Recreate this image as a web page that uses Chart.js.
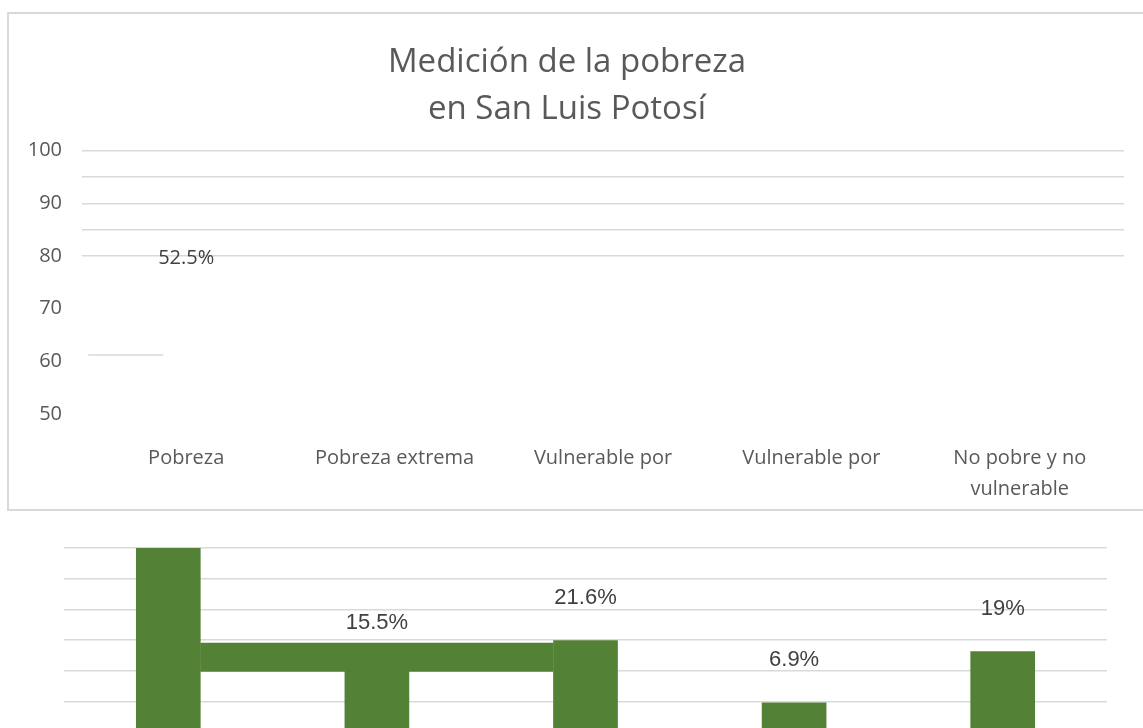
<!DOCTYPE html>
<html>
<head>
<meta charset="utf-8">
<script src="https://cdn.jsdelivr.net/npm/chart.js@4/dist/chart.umd.min.js"></script>
<style>
  html, body { margin: 0; padding: 0; width: 1143px; height: 728px; overflow: hidden; background: #fff; }
  #box { position: absolute; left: 7px; top: 12px; width: 1200px; height: 499px; border: 2px solid #d9d9d9; box-sizing: border-box; }
  #topWrap { position: absolute; left: 0; top: 0; width: 1143px; height: 515px; }
  #barWrap { position: absolute; left: 0; top: 520px; width: 1143px; height: 215px; }
</style>
</head>
<body>
<div id="box"></div>
<div id="topWrap"><canvas id="topChart"></canvas></div>
<div id="barWrap"><canvas id="barChart"></canvas></div>
<script>
// Chart data
const titleLines = ['Medición de la pobreza', 'en San Luis Potosí'];
const categories = ['Pobreza', 'Pobreza extrema', 'Vulnerable por', 'Vulnerable por', ['No pobre y no', 'vulnerable']];
const percentages = [52.5, 15.5, 21.6, 6.9, 19];
const barLabels = ['52.5%', '15.5%', '21.6%', '6.9%', '19%'];

// upper axis (the empty frame)
const upperMin = 50;
const upperMax = 100;
const upperStep = 5;
// broken stub of a gridline near 60, left edge of the frame
const stubX = [-0.47, -0.11];
const stubY = [61.2, 61.2];

// lower axis (where the bars landed)
const lowerMax = 43.5;
const lowerStep = 7.25;
// the stray green band joining the first three bars
const bandX = [0.153, 1.846];
const bandY = [17.65, 17.65];

const green = '#538135';
const gridGrey = '#d9d9d9';
const textGrey = '#595959';

Chart.defaults.animation = false;
Chart.defaults.font.family = "'Open Sans', sans-serif";

// first label ends up up in the frame, the rest sit over their bars
const topLabelPlugin = {
    id: 'topLabel',
    afterDatasetsDraw(chart) {
        const { ctx, scales } = chart;
        ctx.save();
        ctx.font = "20px 'Open Sans', sans-serif";
        ctx.fillStyle = '#404040';
        ctx.textAlign = 'center';
        ctx.textBaseline = 'middle';
        ctx.fillText(barLabels[0], scales.x.getPixelForValue(0), scales.y.getPixelForValue(79.5));
        ctx.restore();
    }
};

const barLabelPlugin = {
    id: 'barLabels',
    afterDatasetsDraw(chart) {
        const { ctx, scales } = chart;
        ctx.save();
        ctx.font = "22px 'Liberation Sans', Arial, sans-serif";
        ctx.fillStyle = '#404040';
        ctx.textAlign = 'center';
        ctx.textBaseline = 'middle';
        for (let i = 1; i < percentages.length; i++) {
            const x = scales.x.getPixelForValue(i);
            const y = scales.y.getPixelForValue(percentages[i]) - 43;
            ctx.fillText(barLabels[i], x, y);
        }
        ctx.restore();
    }
};

new Chart(document.getElementById('topChart'), {
    type: 'line',
    data: {
        labels: categories,
        datasets: [{
            data: stubX.map((x, i) => ({ x: x, y: stubY[i] })),
            xAxisID: 'x2',
            borderColor: gridGrey,
            borderWidth: 1.5,
            pointRadius: 0
        }]
    },
    options: {
        responsive: true,
        maintainAspectRatio: false,
        layout: { padding: { left: 10, right: 19, top: 0, bottom: 0 } },
        plugins: {
            legend: { display: false },
            tooltip: { enabled: false },
            title: {
                display: true,
                text: titleLines,
                color: textGrey,
                font: { size: 33, weight: 'normal', lineHeight: 1.42 },
                padding: { top: 39, bottom: 18 }
            }
        },
        scales: {
            x: {
                type: 'category',
                offset: true,
                grid: { display: false, drawTicks: false },
                border: { display: false },
                ticks: {
                    color: textGrey,
                    font: { size: 20, lineHeight: 1.55 },
                    padding: 29,
                    maxRotation: 0,
                    autoSkip: false
                },
                afterFit(scale) { scale.height = 101; }
            },
            x2: {
                type: 'linear',
                display: false,
                offset: false,
                min: -0.5,
                max: 4.5
            },
            y: {
                min: upperMin,
                max: upperMax,
                border: { display: false },
                grid: {
                    drawTicks: false,
                    lineWidth: 1.5,
                    color: c => (c.tick && c.tick.value >= 80 ? gridGrey : 'rgba(0,0,0,0)')
                },
                ticks: {
                    stepSize: upperStep,
                    autoSkip: false,
                    color: textGrey,
                    font: { size: 20 },
                    padding: 20,
                    callback: v => (v % 10 === 0 ? v : '')
                },
                afterFit(scale) { scale.width = 72; }
            }
        }
    },
    plugins: [topLabelPlugin]
});

new Chart(document.getElementById('barChart'), {
    type: 'bar',
    data: {
        datasets: [{
            type: 'bar',
            data: percentages.map((v, i) => ({ x: i, y: v })),
            backgroundColor: green,
            barThickness: 64,
            clip: 0,
            order: 2
        }, {
            type: 'line',
            data: bandX.map((x, i) => ({ x: x, y: bandY[i] })),
            borderColor: green,
            borderWidth: 29,
            borderCapStyle: 'butt',
            pointRadius: 0,
            order: 1
        }]
    },
    options: {
        responsive: true,
        maintainAspectRatio: false,
        layout: { padding: { left: 64, right: 36, top: 28, bottom: 3 } },
        plugins: {
            legend: { display: false },
            tooltip: { enabled: false }
        },
        scales: {
            x: {
                type: 'linear',
                offset: false,
                min: -0.5,
                max: 4.5,
                display: false
            },
            y: {
                min: 0,
                max: lowerMax,
                border: { display: false },
                grid: { drawTicks: false, color: gridGrey, lineWidth: 1.5 },
                ticks: { display: false, stepSize: lowerStep },
                afterFit(scale) { scale.width = 0; }
            }
        }
    },
    plugins: [barLabelPlugin]
});
</script>
</body>
</html>
